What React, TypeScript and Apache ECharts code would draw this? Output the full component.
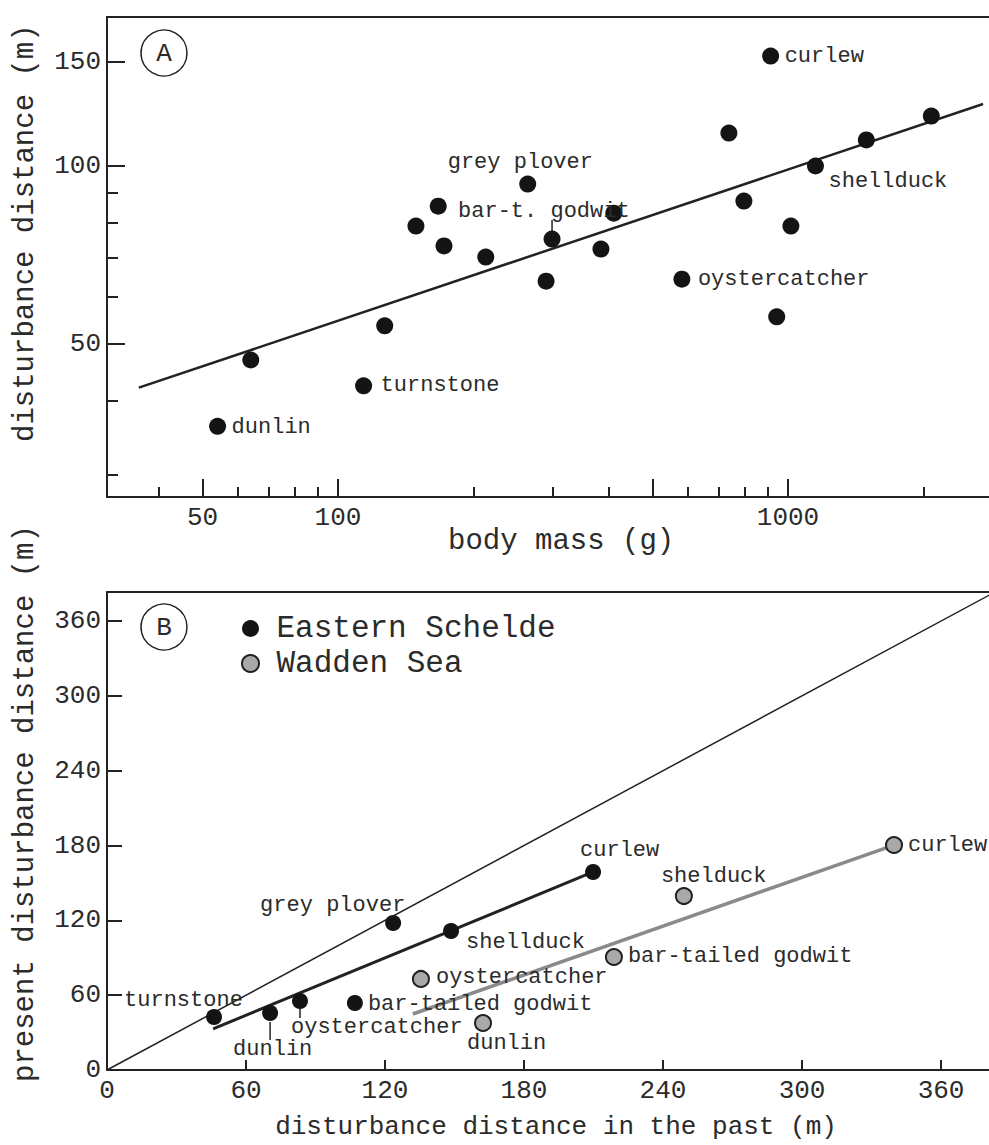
import React, { useEffect, useRef } from "react";
import * as echarts from "echarts";

// ---------- Panel A: body mass (g) vs disturbance distance (m), log-log ----------
const speciesA = ["dunlin", "", "turnstone", "", "", "", "", "", "grey plover", "", "bar-t. godwit", "", "", "oystercatcher", "", "", "curlew", "", "", "shellduck", "", ""];
const massA = [54, 64, 114, 127, 149, 167, 172, 213, 264, 290, 299, 384, 410, 581, 739, 798, 915, 944, 1015, 1151, 1493, 2082];
const distA = [36.2, 46.9, 42.4, 53.6, 79.1, 85.5, 73.2, 70.1, 93.2, 63.8, 75.2, 72.3, 83.2, 64.3, 113.7, 87.2, 153.6, 55.5, 79.1, 100, 110.7, 121.5];
const fitMassA = [36.1, 2713];
const fitDistA = [42.1, 127.4];
const leaderMassA = [299];
const leaderDistA = [[77.3, 81.0]];
const xMajorA = [50, 100, 500, 1000];
const xLabelsA = [50, 100, 1000];
const xMinorA = [40, 60, 70, 80, 90, 200, 300, 400, 600, 700, 800, 900, 2000];
const yMajorA = [50, 100, 150];
const yMinorA = [30, 40, 60, 70, 80, 90];

// ---------- Panel B: past vs present disturbance distance (m) ----------
const eastSpecies = ["turnstone", "dunlin", "oystercatcher", "bar-tailed godwit", "grey plover", "shellduck", "curlew"];
const eastPast = [46.2, 70.4, 83.3, 107, 123.5, 148.5, 209.8];
const eastPresent = [42.5, 45.7, 55.3, 53.7, 117.9, 111.5, 158.8];
const waddenSpecies = ["oystercatcher", "dunlin", "bar-tailed godwit", "shelduck", "curlew"];
const waddenPast = [135.5, 162.3, 218.8, 249, 339.7];
const waddenPresent = [73, 37.7, 90.6, 139.5, 180.4];
const eastFitPast = [45.8, 209.8];
const eastFitPresent = [33, 158.8];
const waddenFitPast = [132, 339.7];
const waddenFitPresent = [44.9, 180.4];
const oneToOne = [0, 400];
const leaderPastB = [70.4, 83.3];
const leaderPresentB = [[38.5, 24.1], [48.9, 41.7]];
const ticksB = [0, 60, 120, 180, 240, 300, 360];

// ---------- styles ----------
const INK = "#222222";
const TXT = "#2b2b2b";
const MONO = "'Liberation Mono', 'Courier New', monospace";
const offA: Record<string, number[]> = {
  dunlin: [14, 1], turnstone: [17, 0], "grey plover": [-80, -22], "bar-t. godwit": [-94, -28],
  oystercatcher: [16, 0], curlew: [14, 0], shellduck: [13, 16],
};
const offE: Record<string, number[]> = {
  turnstone: [-90, -16], dunlin: [-37, 36], oystercatcher: [-9, 26], "bar-tailed godwit": [13, 1],
  "grey plover": [-133, -17], shellduck: [15, 12], curlew: [-13, -21],
};
const offW: Record<string, number[]> = {
  oystercatcher: [15, -1], dunlin: [-16, 21], "bar-tailed godwit": [14, -1], shelduck: [-23, -20], curlew: [14, 0],
};

const L = Math.log10;
const XA_MIN = 1.48667, XA_MAX = 3.44667;
const YA_MIN = 1.43898, YA_MAX = 2.25254;
const XB_MAX = 380.7, YB_MAX = 383.3;

function lbl(name: string, off: Record<string, number[]>) {
  if (!name) return { show: false };
  return {
    show: true, position: "inside", align: "left", verticalAlign: "middle",
    offset: off[name], formatter: "{b}", fontFamily: MONO, fontSize: 22, color: TXT,
  };
}

const tickLabel = { fontFamily: MONO, fontSize: 26, color: TXT };
const axLine = { show: true, onZero: false, lineStyle: { color: INK, width: 2 } };
const tkLine = { color: INK, width: 2 };

export default function App() {
  const ref = useRef<HTMLDivElement>(null);
  useEffect(() => {
    document.body.style.margin = "0";
    const chart = echarts.init(ref.current!, null, { renderer: "svg" });
    const logFmt = (v: number) => String(Math.round(Math.pow(10, v)));
    const option: any = {
      animation: false,
      backgroundColor: "#ffffff",
      grid: [
        { left: 107, top: 17, width: 882, height: 480 },
        { left: 107, top: 592, width: 882, height: 478 },
      ],
      xAxis: [
        {
          gridIndex: 0, type: "value", min: XA_MIN, max: XA_MAX, position: "bottom",
          axisLine: axLine, splitLine: { show: false },
          axisTick: { show: true, inside: true, length: 18, lineStyle: tkLine, customValues: xMajorA.map(L) },
          axisLabel: { ...tickLabel, margin: 8, customValues: xLabelsA.map(L), formatter: logFmt },
        },
        {
          gridIndex: 0, type: "value", min: XA_MIN, max: XA_MAX, position: "bottom",
          axisLine: { show: false }, splitLine: { show: false }, axisLabel: { show: false },
          axisTick: { show: true, inside: true, length: 10, lineStyle: tkLine, customValues: xMinorA.map(L) },
        },
        {
          gridIndex: 0, type: "value", min: XA_MIN, max: XA_MAX, position: "top",
          axisLine: axLine, splitLine: { show: false }, axisLabel: { show: false }, axisTick: { show: false },
        },
        {
          gridIndex: 1, type: "value", min: 0, max: XB_MAX, position: "bottom",
          axisLine: axLine, splitLine: { show: false },
          axisTick: { show: true, inside: true, length: 10, lineStyle: tkLine, customValues: ticksB },
          axisLabel: { ...tickLabel, margin: 8, customValues: ticksB },
        },
        {
          gridIndex: 1, type: "value", min: 0, max: XB_MAX, position: "top",
          axisLine: axLine, splitLine: { show: false }, axisLabel: { show: false }, axisTick: { show: false },
        },
      ],
      yAxis: [
        {
          gridIndex: 0, type: "value", min: YA_MIN, max: YA_MAX, position: "left",
          axisLine: axLine, splitLine: { show: false },
          axisTick: { show: true, inside: true, length: 18, lineStyle: tkLine, customValues: yMajorA.map(L) },
          axisLabel: { ...tickLabel, margin: 6, customValues: yMajorA.map(L), formatter: logFmt },
        },
        {
          gridIndex: 0, type: "value", min: YA_MIN, max: YA_MAX, position: "left",
          axisLine: { show: false }, splitLine: { show: false }, axisLabel: { show: false },
          axisTick: { show: true, inside: true, length: 11, lineStyle: tkLine, customValues: yMinorA.map(L) },
        },
        {
          gridIndex: 1, type: "value", min: 0, max: YB_MAX, position: "left",
          axisLine: axLine, splitLine: { show: false },
          axisTick: { show: true, inside: true, length: 15, lineStyle: tkLine, customValues: ticksB },
          axisLabel: { ...tickLabel, margin: 6, customValues: ticksB },
        },
      ],
      legend: {
        data: ["Eastern Schelde", "Wadden Sea"],
        orient: "vertical", left: 241, top: 613, padding: 0,
        itemWidth: 42, itemHeight: 17, itemGap: 4, icon: "circle", selectedMode: false,
        textStyle: { fontFamily: MONO, fontSize: 31, color: TXT, lineHeight: 31 },
      },
      series: [
        {
          type: "line", xAxisIndex: 0, yAxisIndex: 0, showSymbol: false, silent: true, z: 2,
          data: fitMassA.map((m, i) => [L(m), L(fitDistA[i])]),
          lineStyle: { color: INK, width: 2.5 },
        },
        ...leaderMassA.map((m, i) => ({
          type: "line", xAxisIndex: 0, yAxisIndex: 0, showSymbol: false, silent: true, z: 2,
          data: leaderDistA[i].map((d) => [L(m), L(d)]),
          lineStyle: { color: INK, width: 1.5 },
        })),
        {
          name: "A", type: "scatter", xAxisIndex: 0, yAxisIndex: 0, symbolSize: 17, z: 3,
          itemStyle: { color: "#141414", opacity: 1 },
          data: massA.map((m, i) => ({ name: speciesA[i], value: [L(m), L(distA[i])], label: lbl(speciesA[i], offA) })),
        },
        {
          type: "line", xAxisIndex: 3, yAxisIndex: 2, showSymbol: false, silent: true, z: 1,
          data: oneToOne.map((v) => [v, v]),
          lineStyle: { color: INK, width: 1.5 },
        },
        {
          type: "line", xAxisIndex: 3, yAxisIndex: 2, showSymbol: false, silent: true, z: 2,
          data: eastFitPast.map((p, i) => [p, eastFitPresent[i]]),
          lineStyle: { color: INK, width: 3 },
        },
        {
          type: "line", xAxisIndex: 3, yAxisIndex: 2, showSymbol: false, silent: true, z: 2,
          data: waddenFitPast.map((p, i) => [p, waddenFitPresent[i]]),
          lineStyle: { color: "#8a8a8a", width: 3.5 },
        },
        ...leaderPastB.map((p, i) => ({
          type: "line", xAxisIndex: 3, yAxisIndex: 2, showSymbol: false, silent: true, z: 2,
          data: leaderPresentB[i].map((v) => [p, v]),
          lineStyle: { color: INK, width: 1.5 },
        })),
        {
          name: "Eastern Schelde", type: "scatter", xAxisIndex: 3, yAxisIndex: 2, symbolSize: 16, z: 3,
          itemStyle: { color: "#141414", opacity: 1 },
          data: eastPast.map((p, i) => ({ name: eastSpecies[i], value: [p, eastPresent[i]], label: lbl(eastSpecies[i], offE) })),
        },
        {
          name: "Wadden Sea", type: "scatter", xAxisIndex: 3, yAxisIndex: 2, symbolSize: 16, z: 3,
          itemStyle: { color: "#a9a9a9", borderColor: INK, borderWidth: 2, opacity: 1 },
          data: waddenPast.map((p, i) => ({ name: waddenSpecies[i], value: [p, waddenPresent[i]], label: lbl(waddenSpecies[i], offW) })),
        },
      ],
      graphic: [
        { type: "circle", shape: { cx: 164, cy: 53, r: 23 }, style: { fill: "none", stroke: INK, lineWidth: 1.5 } },
        { type: "text", x: 164, y: 54, style: { text: "A", fontFamily: MONO, fontSize: 26, fill: TXT, align: "center", verticalAlign: "middle" } },
        { type: "circle", shape: { cx: 164, cy: 627, r: 23 }, style: { fill: "none", stroke: INK, lineWidth: 1.5 } },
        { type: "text", x: 164, y: 628, style: { text: "B", fontFamily: MONO, fontSize: 26, fill: TXT, align: "center", verticalAlign: "middle" } },
        // axis titles, panel A
        { type: "text", x: 448, y: 541, style: { text: "body mass (g)", fontFamily: MONO, fontSize: 29, fill: TXT, align: "left", verticalAlign: "middle" } },
        { type: "text", x: 25, y: 442, rotation: Math.PI / 2, style: { text: "disturbance distance (m)", fontFamily: MONO, fontSize: 29, fill: TXT, align: "left", verticalAlign: "middle" } },
        // axis titles, panel B
        { type: "text", x: 556, y: 1127, style: { text: "disturbance distance in the past (m)", fontFamily: MONO, fontSize: 26, fill: TXT, align: "center", verticalAlign: "middle" } },
        { type: "text", x: 25, y: 1082, rotation: Math.PI / 2, style: { text: "present disturbance distance (m)", fontFamily: MONO, fontSize: 29, fill: TXT, align: "left", verticalAlign: "middle" } },
      ],
    };
    chart.setOption(option);
    return () => chart.dispose();
  }, []);
  return <div ref={ref} style={{ width: 989, height: 1145 }} />;
}
